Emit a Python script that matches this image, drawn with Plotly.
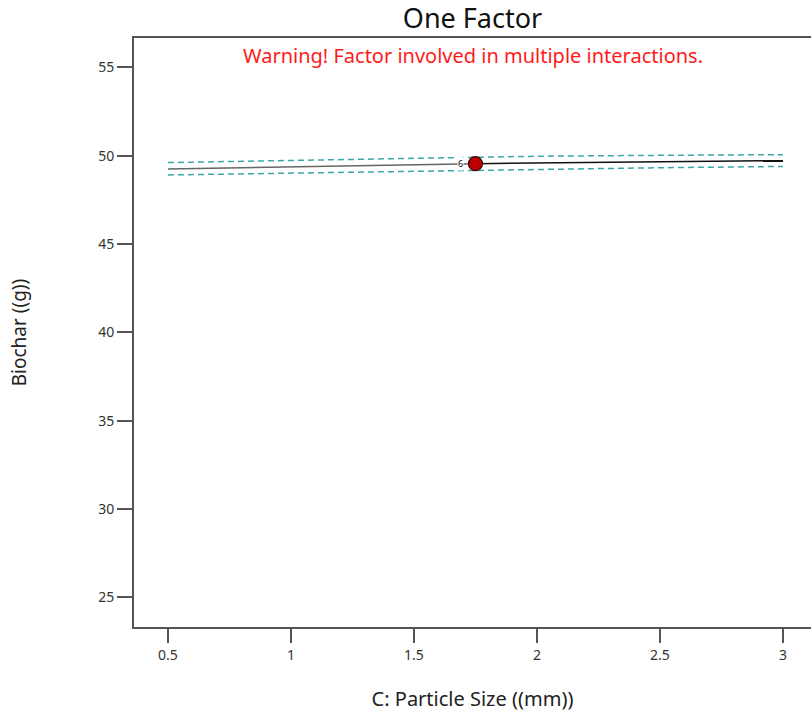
import plotly.graph_objects as go

x_vals = [0.5, 1.0, 1.5, 1.75, 2.0, 2.5, 3.0]
pred = [49.24, 49.35, 49.47, 49.55, 49.59, 49.66, 49.72]
upper = [49.61, 49.73, 49.86, 49.94, 49.97, 50.02, 50.06]
lower = [48.91, 49.01, 49.13, 49.20, 49.24, 49.32, 49.39]

design_x = [1.75]
design_y = [49.55]
design_label = ["6"]

x_ticks = [0.5, 1, 1.5, 2, 2.5, 3]
x_ticktext = ["0.5", "1", "1.5", "2", "2.5", "3"]
y_ticks = [25, 30, 35, 40, 45, 50, 55]

FONT = "Noto Sans"

fig = go.Figure()
teal = "#3aa7a7"
fig.add_trace(go.Scatter(x=x_vals, y=upper, mode="lines",
                         line=dict(color=teal, width=1.5, dash="6px,4px"), showlegend=False))
fig.add_trace(go.Scatter(x=x_vals, y=lower, mode="lines",
                         line=dict(color=teal, width=1.5, dash="6px,4px"), showlegend=False))
fig.add_trace(go.Scatter(x=x_vals[:4], y=pred[:4], mode="lines",
                         line=dict(color="#666666", width=1.5), showlegend=False))
fig.add_trace(go.Scatter(x=x_vals[3:], y=pred[3:], mode="lines",
                         line=dict(color="#111111", width=1.5), showlegend=False))
fig.add_trace(go.Scatter(x=design_x, y=design_y, mode="markers",
                         marker=dict(color="#b80000", size=14, line=dict(color="#400000", width=1.2)),
                         showlegend=False))
for dx, dy, lab in zip(design_x, design_y, design_label):
    fig.add_annotation(x=dx, y=dy, text=lab, showarrow=False, xshift=-15,
                       bgcolor="white", borderpad=0,
                       font=dict(size=9, color="#111", family=FONT))

fig.update_layout(
    width=811, height=713,
    margin=dict(l=134, r=0, t=38, b=86),
    paper_bgcolor="white", plot_bgcolor="white",
    title=dict(text="One Factor", x=(134 + 811) / 2 / 811, xanchor="center",
               y=1 - 19 / 713, yanchor="middle",
               font=dict(family=FONT, size=27, color="#111")),
    font=dict(family=FONT),
)
fig.update_xaxes(range=[0.362, 3.114], tickvals=x_ticks, ticktext=x_ticktext,
                 ticks="outside", ticklen=14, tickwidth=1.5, tickcolor="#555",
                 showline=True, linecolor="#555", linewidth=2, mirror=True,
                 showgrid=False, zeroline=False,
                 tickfont=dict(size=14, color="#333", family=FONT),
                 title=dict(text="C: Particle Size ((mm))", standoff=29,
                            font=dict(size=20, color="#222", family=FONT)))
fig.update_yaxes(range=[23.33, 56.66], tickvals=y_ticks,
                 ticks="outside", ticklen=15, tickwidth=1.5, tickcolor="#555",
                 showline=True, linecolor="#555", linewidth=2,
                 showgrid=False, zeroline=False,
                 tickfont=dict(size=14, color="#333", family=FONT),
                 title=dict(text="Biochar ((g))", standoff=67,
                            font=dict(size=19, color="#222", family=FONT)))

fig.add_annotation(text="Warning! Factor involved in multiple interactions.",
                   xref="paper", yref="paper", x=0.5, y=1 - 18 / 589.3,
                   xanchor="center", yanchor="middle", showarrow=False,
                   font=dict(size=20, color="#ff1a1a", family=FONT))

fig.write_html("out.html", config={"displayModeBar": False},
               post_script="document.body.style.margin='0';document.body.style.overflow='hidden';")
